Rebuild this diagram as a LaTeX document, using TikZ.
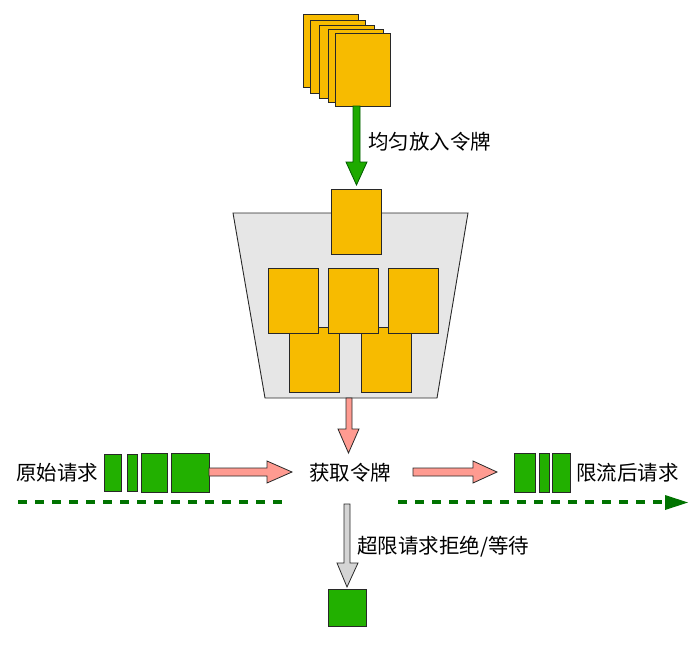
\documentclass[tikz,border=0pt]{standalone}
\usepackage{fontspec}
\setmainfont{Noto Sans CJK SC}
\definecolor{cardy}{RGB}{247,187,0}
\definecolor{edge}{RGB}{40,40,40}
\definecolor{bucketgray}{RGB}{230,230,230}
\definecolor{reqgreen}{RGB}{34,176,0}
\definecolor{arrgreen}{RGB}{30,170,0}
\definecolor{arrred}{RGB}{255,155,145}
\definecolor{arrgray}{RGB}{212,212,212}
\definecolor{dashgreen}{RGB}{0,115,0}
\begin{document}
\begin{tikzpicture}[x=1pt,y=-1pt,
  card/.style={draw=edge,fill=cardy,line width=0.9pt,inner sep=0pt,minimum width=50pt,minimum height=65pt},
  stackcard/.style={card,minimum width=55pt,minimum height=73pt},
  req/.style={draw=edge,fill=reqgreen,line width=0.9pt},
  blockarr/.style={draw=edge,line width=0.8pt,line join=miter},
  lbl/.style={inner sep=0pt,anchor=west,font=\fontsize{20.5pt}{21pt}\selectfont},
  dashline/.style={draw=dashgreen,line width=4pt,dash pattern=on 8.5pt off 8.5pt}
]
\useasboundingbox (0,0) rectangle (697,649);
% stacked tokens
\node[stackcard] (s1) at (330.5,50.5) {};
\node[stackcard] (s2) at (338,57) {};
\node[stackcard] (s3) at (346.5,62) {};
\node[stackcard] (s4) at (355.5,65.5) {};
\node[stackcard] (s5) at (362.5,69.5) {};
% green arrow
\draw[blockarr,fill=arrgreen,draw=green!35!black] (353,106) -- (360,106) -- (360,162) -- (367,162) -- (356.5,185) -- (346,162) -- (353,162) -- cycle;
\node[lbl] (put) at (368,142) {均匀放入令牌};
% bucket
\draw[draw=edge,fill=bucketgray,line width=0.9pt] (233,213) -- (468,213) -- (437,398) -- (265,398) -- cycle;
\node[card] (t0) at (356,221.5) {};
\node[card] (b1) at (314,359.5) {};
\node[card] (b2) at (386.5,359.5) {};
\node[card] (m1) at (293,301) {};
\node[card] (m2) at (353.5,301) {};
\node[card] (m3) at (413,301) {};
% red down arrow
\draw[blockarr,fill=arrred] (346,398) -- (352,398) -- (352,429) -- (359,429) -- (348.5,453) -- (338,429) -- (346,429) -- cycle;
% requests
\node[lbl] (orig) at (16,473) {原始请求};
\draw[req] (104,454) rectangle (121,491);
\draw[req] (127,454) rectangle (137,491);
\draw[req] (141,453) rectangle (167,492);
\draw[req] (171,453) rectangle (209,492);
\draw[blockarr,fill=arrred] (209,468) -- (267,468) -- (267,461) -- (292,472) -- (267,483) -- (267,476) -- (209,476) -- cycle;
\node[lbl] (get) at (309,473) {获取令牌};
\draw[blockarr,fill=arrred] (413,468) -- (473,468) -- (473,461) -- (497,472) -- (473,483) -- (473,476) -- (413,476) -- cycle;
\draw[req] (514,453) rectangle (535,492);
\draw[req] (539,453) rectangle (549,492);
\draw[req] (552,453) rectangle (570,492);
\node[lbl] (after) at (576,473) {限流后请求};
% dashed lines
\draw[dashline] (18,502) -- (285,502);
\draw[dashline] (398,502) -- (668,502);
\fill[dashgreen] (665,495) -- (688,502.5) -- (665,510) -- cycle;
% gray arrow
\draw[blockarr,fill=arrgray] (344,504) -- (350,504) -- (350,563) -- (358,563) -- (347,587) -- (337,563) -- (344,563) -- cycle;
\node[lbl] (rej) at (357,547) {超限请求拒绝/等待};
\draw[req] (328,589) rectangle (366,626);
\end{tikzpicture}
\end{document}
